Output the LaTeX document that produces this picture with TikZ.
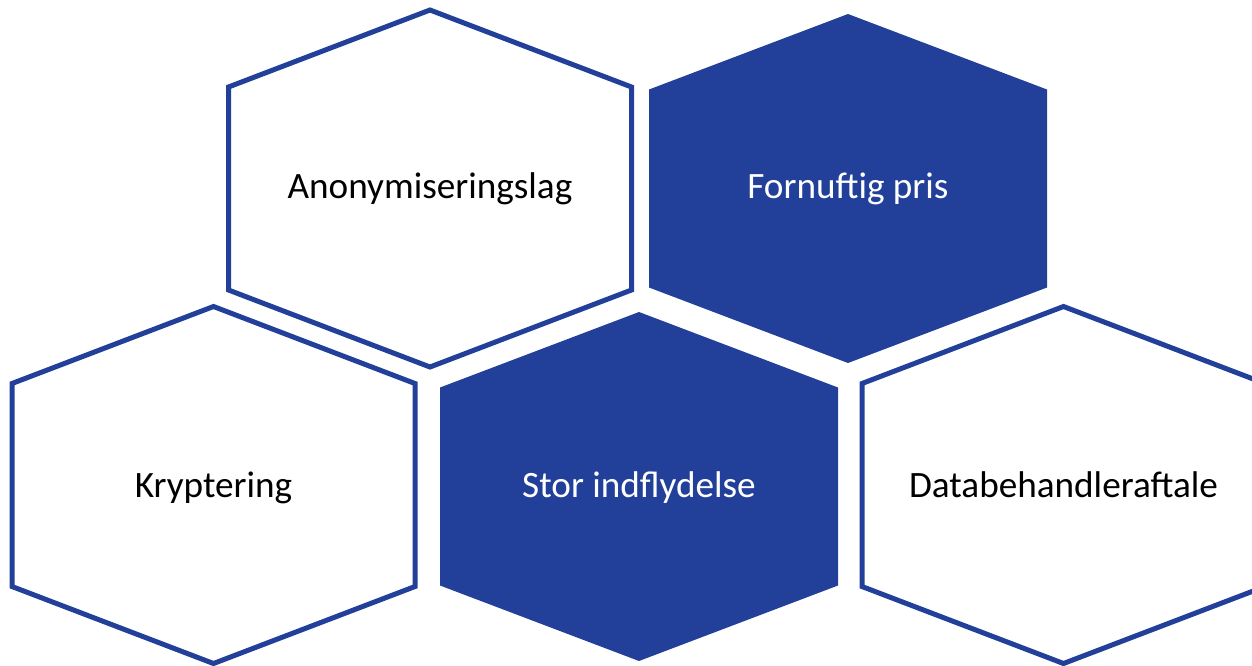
\documentclass[tikz,border=0pt]{standalone}
\usepackage{fontspec}
\setmainfont{Carlito}
\definecolor{hexblue}{RGB}{34,64,154}

\begin{document}
\begin{tikzpicture}[x=0.5pt,y=-0.5pt,
    hexline/.style={draw=hexblue,line width=2.5pt,line join=miter},
    hexfill/.style={fill=hexblue},
    hexlabel/.style={anchor=base,inner sep=0pt,font=\fontsize{18.6}{22}\selectfont}]
    \useasboundingbox (0,0) rectangle (1252,665);

    % Outlined cells
    \foreach \cx/\cy in {430/188.5,213.5/485,1063.5/485}
        \draw[hexline] (\cx,\cy-178.5) -- ++(201.5,77) -- ++(0,203) -- ++(-201.5,77)
            -- ++(-201.5,-77) -- ++(0,-203) -- cycle;

    % Filled cells
    \foreach \cx/\cy in {848/188.5,639/486.5}
        \fill[hexfill] (\cx,\cy-174.5) -- ++(199,75.5) -- ++(0,198) -- ++(-199,75.5)
            -- ++(-199,-75.5) -- ++(0,-198) -- cycle;

    % Labels
    \node[hexlabel] (anon) at (430,198) {Anonymiseringslag};
    \node[hexlabel,white] (pris) at (848,198) {Fornuftig pris};
    \node[hexlabel] (krypt) at (213.5,497) {Kryptering};
    \node[hexlabel,white] (indfl) at (639,497) {Stor indflydelse};
    \node[hexlabel] (dba) at (1063.5,497) {Databehandleraftale};
\end{tikzpicture}
\end{document}
